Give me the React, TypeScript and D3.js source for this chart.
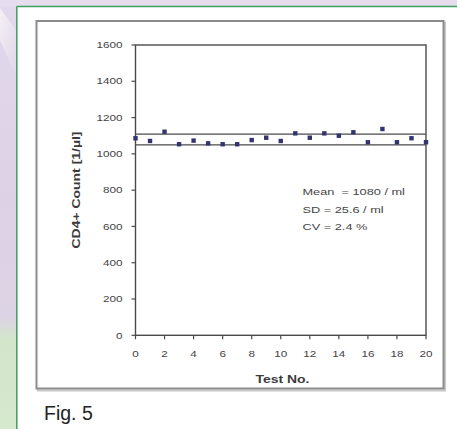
import React from "react";
import * as d3 from "d3";

const testNo = [0, 1, 2, 3, 4, 5, 6, 7, 8, 9, 10, 11, 12, 13, 14, 15, 16, 17, 18, 19, 20];
const cd4Counts = [1086, 1071, 1122, 1053, 1073, 1058, 1053, 1053, 1076, 1089, 1071, 1113, 1089, 1113, 1100, 1119, 1064, 1137, 1064, 1086, 1064];
const limitLines = [1049, 1109];
const yTicks = [0, 200, 400, 600, 800, 1000, 1200, 1400, 1600];
const xTicks = [0, 2, 4, 6, 8, 10, 12, 14, 16, 18, 20];
const statsLines = ["Mean  = 1080 / ml", "SD = 25.6 / ml", "CV = 2.4 %"];
const xTitle = "Test No.";
const yTitle = "CD4+ Count [1/µl]";
const caption = "Fig. 5";

const W = 457;
const H = 429;
const FONT = "'Liberation Sans', Arial, sans-serif";
const TXT = "#454545";
const SX = 1.33;

export default function App() {
  const x = d3.scaleLinear().domain([0, 20]).range([135.5, 426]);
  const y = d3.scaleLinear().domain([0, 1600]).range([335.3, 45]);
  const [x0, x1] = x.range();
  const [y0, y1] = y.range();

  return (
    <svg
      width={W}
      height={H}
      viewBox={`0 0 ${W} ${H}`}
      style={{ position: "absolute", left: 0, top: 0, display: "block" }}
    >
      <defs>
        <linearGradient id="bgLeft" x1="0" y1="0" x2="0" y2="1">
          <stop offset="0" stopColor="#e2d9ec" />
          <stop offset="0.45" stopColor="#ddd1e6" />
          <stop offset="0.74" stopColor="#dcd3e4" />
          <stop offset="0.79" stopColor="#d3e6cb" />
          <stop offset="1" stopColor="#d5e9cd" />
        </linearGradient>
        <linearGradient id="streak" x1="0" y1="0" x2="1" y2="1">
          <stop offset="0" stopColor="#f7f3f4" stopOpacity="0.9" />
          <stop offset="1" stopColor="#f3eef2" stopOpacity="0" />
        </linearGradient>
      </defs>

      {/* page background */}
      <rect x={0} y={0} width={W} height={H} fill="url(#bgLeft)" />
      <polygon points="0,8 16,30 16,75 0,40" fill="url(#streak)" />
      <rect x={0} y={0} width={W} height={6.5} fill="#e6deee" />

      {/* white panel with green border */}
      <rect x={17} y={6.5} width={W - 17} height={H - 6.5} fill="#ffffff" />
      <line x1={16.8} y1={6.5} x2={W} y2={6.5} stroke="#3f9e5e" strokeWidth={1.5} />
      <line x1={16.8} y1={6.5} x2={16.8} y2={H} stroke="#3f9e5e" strokeWidth={1.5} />

      {/* chart frame */}
      <rect x={38} y={22.5} width={407} height={368} fill="none" stroke="#c8c8c8" strokeWidth={2} />
      <rect x={36.5} y={21} width={407} height={367.5} fill="#ffffff" stroke="#8c8c8c" strokeWidth={2} />

      {/* plot area border */}
      <rect x={x0} y={y1} width={x1 - x0} height={y0 - y1} fill="none" stroke="#4a4a4a" strokeWidth={1.4} />

      {/* y ticks */}
      {yTicks.map((t) => (
        <g key={`yt${t}`}>
          <line x1={x0 - 4} x2={x0} y1={y(t)} y2={y(t)} stroke="#4a4a4a" strokeWidth={1.2} />
          <text
            transform={`translate(${x0 - 13},${y(t) + 3.2}) scale(${SX},1)`}
            textAnchor="end"
            fontFamily={FONT}
            fontSize={8.8}
            fill={TXT}
          >
            {t}
          </text>
        </g>
      ))}

      {/* x ticks */}
      {xTicks.map((t) => (
        <g key={`xt${t}`}>
          <line x1={x(t)} x2={x(t)} y1={y0} y2={y0 + 4} stroke="#4a4a4a" strokeWidth={1.2} />
          <text
            transform={`translate(${x(t)},${y0 + 22}) scale(${SX},1)`}
            textAnchor="middle"
            fontFamily={FONT}
            fontSize={8.8}
            fill={TXT}
          >
            {t}
          </text>
        </g>
      ))}

      {/* limit lines */}
      {limitLines.map((v) => (
        <line key={`ll${v}`} x1={x0} x2={x1} y1={y(v)} y2={y(v)} stroke="#4a4a4a" strokeWidth={1.3} />
      ))}

      {/* points */}
      {testNo.map((n, i) => (
        <rect
          key={`p${n}`}
          x={x(n) - 2.2}
          y={y(cd4Counts[i]) - 2.2}
          width={4.4}
          height={4.4}
          fill="#33336f"
        />
      ))}

      {/* stats annotation */}
      {statsLines.map((s, i) => (
        <text
          key={`s${i}`}
          transform={`translate(302.5,${195.3 + i * 17.2}) scale(${SX},1)`}
          fontFamily={FONT}
          fontSize={9.6}
          fill={TXT}
          xmlSpace="preserve"
          style={{ whiteSpace: "pre" }}
        >
          {s}
        </text>
      ))}

      {/* axis titles */}
      <text
        transform={`translate(282.5,382.5) scale(${SX},1)`}
        textAnchor="middle"
        fontFamily={FONT}
        fontSize={10.5}
        fontWeight="bold"
        fill="#3a3a3a"
      >
        {xTitle}
      </text>
      <text
        transform={`translate(80,190) rotate(-90) scale(${SX},1)`}
        textAnchor="middle"
        fontFamily={FONT}
        fontSize={10.5}
        fontWeight="bold"
        fill="#3a3a3a"
      >
        {yTitle}
      </text>

      {/* caption */}
      <text x={44} y={419.5} fontFamily={FONT} fontSize={19.5} fill="#222222">
        {caption}
      </text>
    </svg>
  );
}
